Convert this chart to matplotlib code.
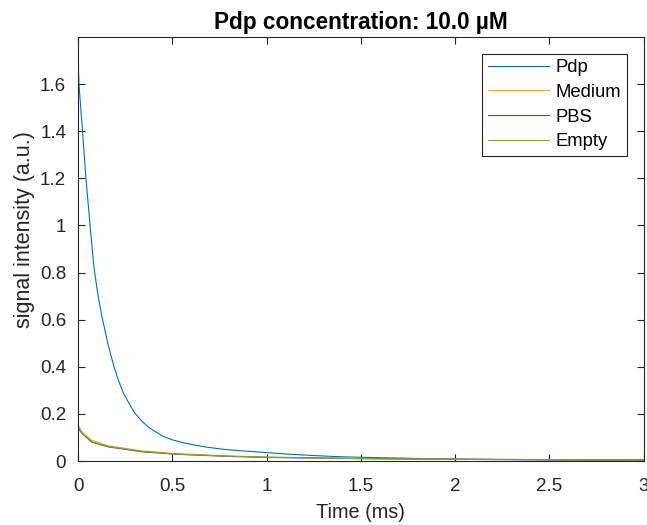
import matplotlib
matplotlib.use("Agg")
import matplotlib.pyplot as plt

plt.rcParams['font.family'] = ['Liberation Sans', 'DejaVu Sans']

# Data
t_pdp = [0.0, 0.005, 0.023, 0.041, 0.064, 0.085, 0.105, 0.125, 0.161, 0.191, 0.214, 0.24,
         0.267, 0.30, 0.34, 0.38, 0.45, 0.50, 0.567, 0.63, 0.69, 0.78, 0.87, 0.965, 1.1,
         1.23, 1.36, 1.49, 1.67, 1.85, 2.2, 2.6, 3.0]
pdp = [1.72, 1.60, 1.41, 1.21, 1.00, 0.82, 0.71, 0.62, 0.49, 0.40, 0.344, 0.29,
       0.25, 0.205, 0.168, 0.14, 0.105, 0.090, 0.076, 0.066, 0.058, 0.049, 0.043, 0.038, 0.030,
       0.024, 0.019, 0.016, 0.013, 0.010, 0.007, 0.005, 0.004]

t_low = [0.0, 0.02, 0.072, 0.16, 0.34, 0.51, 0.78, 1.0, 1.5, 2.0, 2.5, 3.0]
medium = [0.155, 0.125, 0.088, 0.065, 0.043, 0.032, 0.022, 0.017, 0.011, 0.008, 0.006, 0.005]
pbs = [0.140, 0.118, 0.080, 0.060, 0.039, 0.029, 0.020, 0.015, 0.010, 0.007, 0.005, 0.004]
empty = [0.145, 0.120, 0.083, 0.062, 0.041, 0.030, 0.021, 0.016, 0.010, 0.007, 0.005, 0.004]

labels = ['Pdp', 'Medium', 'PBS', 'Empty']
colors = ['#0072BD', '#EDB120', '#7E2F8E', '#77AC30']
x_ticks = [0, 0.5, 1, 1.5, 2, 2.5, 3]
x_ticklabels = ['0', '0.5', '1', '1.5', '2', '2.5', '3']
y_ticks = [0, 0.2, 0.4, 0.6, 0.8, 1.0, 1.2, 1.4, 1.6]
y_ticklabels = ['0', '0.2', '0.4', '0.6', '0.8', '1', '1.2', '1.4', '1.6']

fig = plt.figure(figsize=(6.47, 5.25), dpi=100)
ax = fig.add_axes([78/647, 64/525, (643.5-78)/647, (461-37)/525])

ax.plot(t_pdp, pdp, color=colors[0], lw=0.8, label=labels[0])
ax.plot(t_low, medium, color=colors[1], lw=0.8, label=labels[1])
ax.plot(t_low, pbs, color=colors[2], lw=0.8, label=labels[2])
ax.plot(t_low, empty, color=colors[3], lw=0.8, label=labels[3])

ax.set_xlim(0, 3)
ax.set_ylim(0, 1.8)
ax.set_xticks(x_ticks)
ax.set_xticklabels(x_ticklabels)
ax.set_yticks(y_ticks)
ax.set_yticklabels(y_ticklabels)
ax.tick_params(direction='in', length=5, width=0.8, color='#262626', labelsize=13.5,
               labelcolor='#262626', top=True, right=True)
ax.tick_params(axis='x', pad=12)
ax.tick_params(axis='y', pad=8.5)
for s in ax.spines.values():
    s.set_color('#262626')
    s.set_linewidth(0.8)

ax.set_xlabel('Time (ms)', fontsize=14.3, color='#262626', labelpad=6)
ax.set_ylabel('signal intensity (a.u.)', fontsize=15.5, color='#262626', labelpad=7)
ax.yaxis.set_label_coords(-0.076, 0.547)
ax.set_title('Pdp concentration: 10.0 µM', fontsize=16.3, fontweight='bold', pad=6)

leg = ax.legend(loc='upper right', fontsize=13.3, frameon=True, fancybox=False,
                edgecolor='#262626', framealpha=1, handlelength=3.3, handletextpad=0.38,
                labelspacing=0.42, borderpad=0.3, borderaxespad=0.9)
leg.get_frame().set_linewidth(0.8)

fig.savefig('out.png', dpi=100)
